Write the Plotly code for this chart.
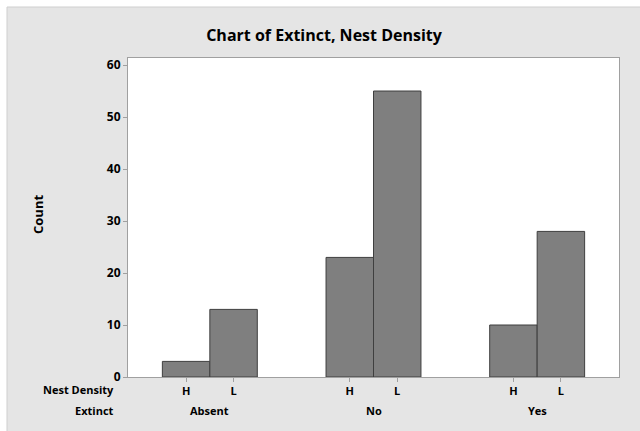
import plotly.graph_objects as go

extinct_groups = ["Absent", "No", "Yes"]
nest_density = ["H", "L"]
counts_H = [3, 23, 10]
counts_L = [13, 55, 28]
y_ticks = [0, 10, 20, 30, 40, 50, 60]

W, H = 640, 431
ml, mr, mt, mb = 128, 21, 58, 54
pw, ph = W - ml - mr, H - mt - mb

def px_x(p):
    return (p - ml) / pw

def px_y(p):
    return (H - mb - p) / ph

off = 0.145
bw = 0.29
xs, ys, tv, tt = [], [], [], []
for gi, g in enumerate(extinct_groups):
    for si, (sub, vals) in enumerate(zip(nest_density, [counts_H, counts_L])):
        x = gi + (-off if si == 0 else off)
        xs.append(x)
        ys.append(vals[gi])
        tv.append(x)
        tt.append(sub)

fig = go.Figure()
fig.add_trace(go.Bar(
    x=xs, y=ys, width=bw,
    marker=dict(color="#7f7f7f", line=dict(color="#3f3f3f", width=1)),
    showlegend=False, hoverinfo="x+y",
))

font_fam = "Open Sans, DejaVu Sans, sans-serif"
lab_font = dict(family=font_fam, size=11, color="#000000", weight="bold")
num_font = dict(family=font_fam, size=12, color="#000000", weight="bold")

shapes = [
    dict(type="rect", xref="paper", yref="paper", layer="below",
         x0=px_x(7), x1=px_x(641), y0=px_y(432), y1=px_y(7),
         fillcolor="#e5e5e5", line=dict(color="#cfcfcf", width=1)),
    dict(type="rect", xref="paper", yref="paper", layer="below",
         x0=0, x1=1, y0=0, y1=1,
         fillcolor="#ffffff", line=dict(width=0)),
]

annotations = [
    dict(text="Count", xref="paper", yref="paper", x=px_x(38), y=px_y(215),
         textangle=-90, showarrow=False, xanchor="center", yanchor="middle",
         font=dict(family=font_fam, size=13, color="#000000", weight="bold")),
    dict(text="Nest Density", xref="paper", yref="paper", x=px_x(116), y=px_y(389),
         showarrow=False, xanchor="right", yanchor="middle", font=lab_font),
    dict(text="Extinct", xref="paper", yref="paper", x=px_x(116), y=px_y(410),
         showarrow=False, xanchor="right", yanchor="middle", font=lab_font),
]
for gi, g in enumerate(extinct_groups):
    annotations.append(dict(text=g, xref="x", yref="paper", x=gi, y=px_y(410),
                            showarrow=False, xanchor="center", yanchor="middle",
                            font=lab_font))

fig.update_layout(
    width=W, height=H,
    margin=dict(l=ml, r=mr, t=mt, b=mb, pad=0),
    paper_bgcolor="#ffffff",
    plot_bgcolor="rgba(0,0,0,0)",
    title=dict(text="<b>Chart of Extinct, Nest Density</b>", x=324 / W,
               xanchor="center", y=1 - 35 / H, yanchor="middle", yref="container",
               font=dict(family=font_fam, size=16, color="#000000")),
    shapes=shapes,
    annotations=annotations,
    xaxis=dict(range=[-0.5, 2.5], tickvals=tv, ticktext=tt, ticks="outside",
               ticklen=4, tickcolor="#a0a0a0", showgrid=False, zeroline=False,
               showline=True, linecolor="#a0a0a0", mirror=True,
               tickfont=lab_font),
    yaxis=dict(range=[0, 61.35], tickvals=y_ticks, ticks="outside", ticklen=4,
               tickcolor="#a0a0a0", showgrid=False, zeroline=False,
               showline=True, linecolor="#a0a0a0", mirror=True,
               tickfont=num_font),
)

fig.write_html("out.html", config={"displayModeBar": False},
               post_script="document.body.style.margin='0';document.body.style.padding='0';")
